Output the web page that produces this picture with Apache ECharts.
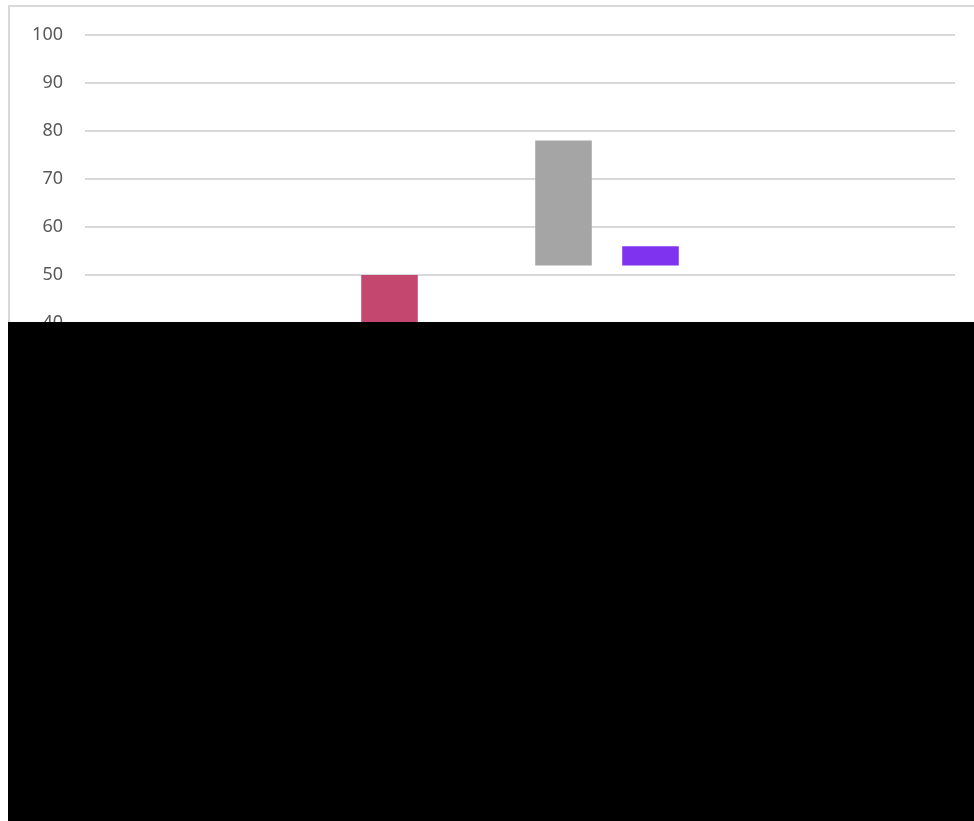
<!DOCTYPE html>
<html>
<head>
<meta charset="utf-8">
<script src="https://cdn.jsdelivr.net/npm/echarts@6/dist/echarts.min.js"></script>
<style>
  html, body { margin: 0; padding: 0; background: #ffffff; width: 974px; height: 821px; overflow: hidden; }
  #frame { position: absolute; left: 8px; top: 5px; width: 980px; height: 330px; border-top: 2px solid #d9d9d9; border-left: 2px solid #d9d9d9; box-sizing: border-box; }
  #chart { position: absolute; left: 0; top: 0; width: 974px; height: 360px; }
  #lower { position: absolute; left: 8px; top: 322px; width: 966px; height: 499px; background: #000000; }
</style>
</head>
<body>
<div id="frame"></div>
<div id="chart"></div>
<div id="lower"></div>
<script>
// Floating (waterfall-style) bars: each category goes from a low to a high value
const categories = ['1', '2', '3', '4', '5', '6', '7', '8', '9', '10'];
const lows  = [null, null, null, 36, null, 52, 52, null, null, null];
const highs = [null, null, null, 50, null, 78, 56, null, null, null];
const barColors = ['#ffc000', '#5b9bd5', '#ed7d31', '#c4476f', '#70ad47', '#a5a5a5', '#7f33ee', '#4472c4', '#264478', '#9e480e'];
const yTicks = { min: 40, max: 100, interval: 10 };

const baseData = lows.map(v => v);
const riseData = highs.map((h, i) => (h == null || lows[i] == null) ? null : {
  value: h - lows[i],
  itemStyle: { color: barColors[i] }
});

const chart = echarts.init(document.getElementById('chart'), null, { renderer: 'canvas' });
chart.setOption({
  animation: false,
  backgroundColor: 'transparent',
  grid: { left: 85, right: 19, top: 35, bottom: 37, containLabel: false, outerBoundsMode: 'none' },
  xAxis: {
    type: 'category',
    data: categories,
    axisLine: { show: true, lineStyle: { color: '#d9d9d9', width: 2 } },
    axisTick: { show: false },
    axisLabel: { show: false }
  },
  yAxis: {
    type: 'value',
    min: yTicks.min,
    max: yTicks.max,
    interval: yTicks.interval,
    axisLine: { show: false },
    axisTick: { show: false },
    axisLabel: { color: '#595959', fontSize: 18, fontFamily: 'Noto Sans', margin: 22 },
    splitLine: { lineStyle: { color: '#d9d9d9', width: 2 } }
  },
  series: [
    {
      type: 'bar', stack: 'wf', data: baseData, barWidth: '65%',
      itemStyle: { color: 'transparent' }, silent: true
    },
    {
      type: 'bar', stack: 'wf', data: riseData, barWidth: '65%'
    }
  ]
});
</script>
</body>
</html>
